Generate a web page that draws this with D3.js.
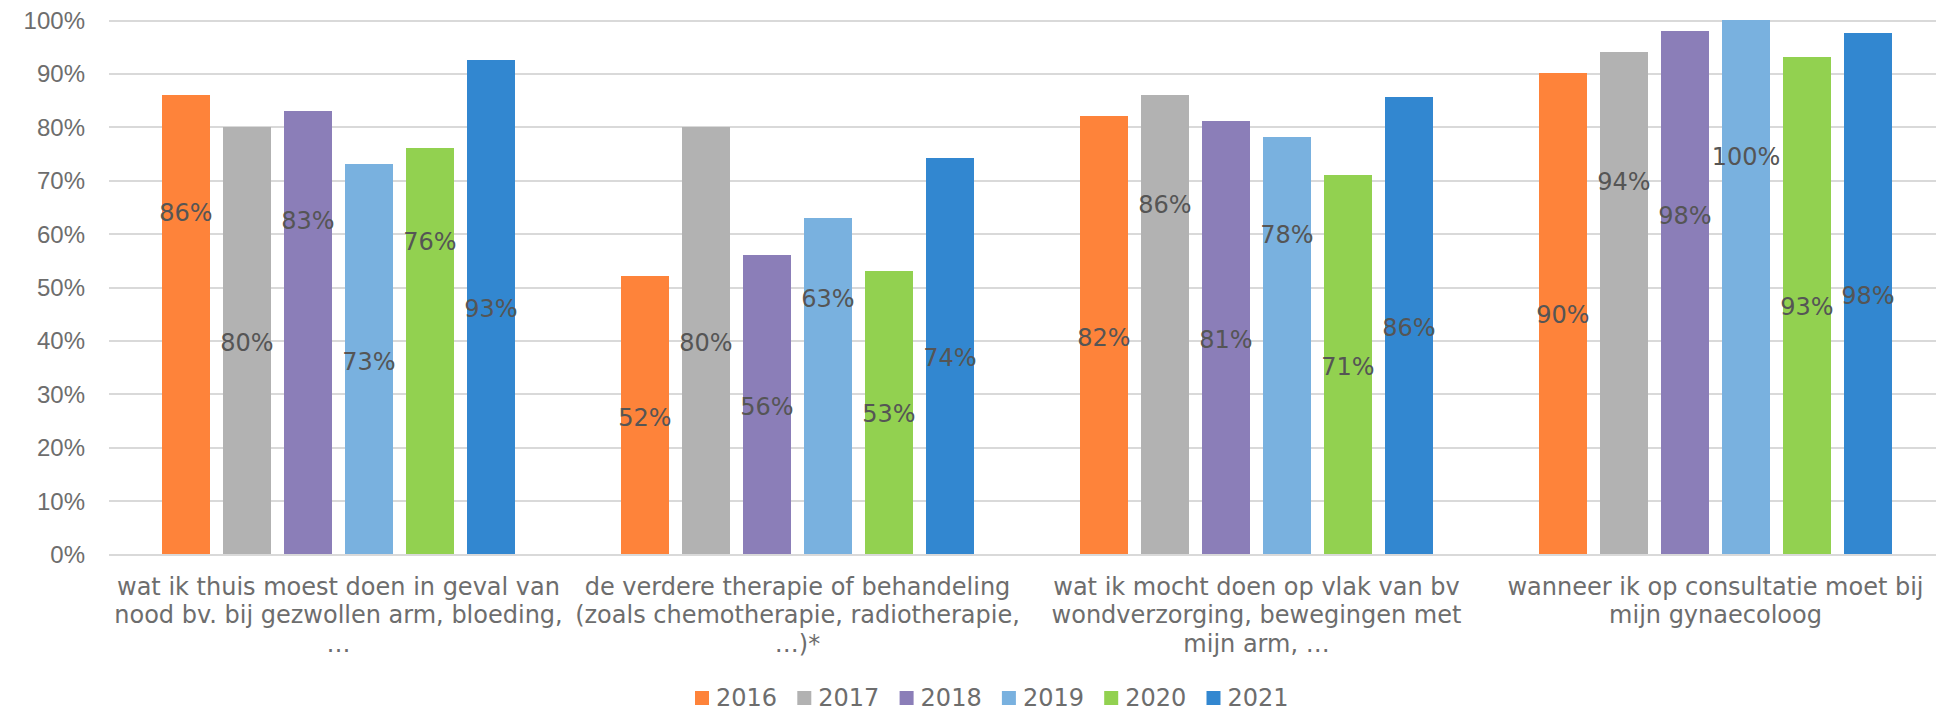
<html lang="nl">
<head>
    <meta charset="utf-8">
    <title>Informatie per jaar</title>
    <script src="https://cdn.jsdelivr.net/npm/d3@7"></script>
    <style type="text/css">
        body {
            margin: 0;
            font-family: Verdana, "DejaVu Sans", sans-serif;
            background: #fff;
        }
        .grid line {
            stroke: #d9d9d9;
            stroke-width: 2px;
            shape-rendering: crispEdges;
        }
        .grid .domain {
            display: none;
        }
        .grid text {
            font-size: 24px;
            fill: #6d6d6d;
        }
        .bar {
            shape-rendering: crispEdges;
        }
        .val {
            font-size: 24px;
            fill: #555;
            text-anchor: middle;
        }
        .cat {
            font-size: 24px;
            fill: #6d6d6d;
            text-anchor: middle;
        }
        .legend text {
            font-size: 24px;
            fill: #6d6d6d;
        }
    </style>
</head>
<body>
<div id="chart">
    <script type="text/javascript">

        // data
        var years = ["2016", "2017", "2018", "2019", "2020", "2021"];
        var categories = [
            ["wat ik thuis moest doen in geval van", "nood bv. bij gezwollen arm, bloeding,", "\u2026"],
            ["de verdere therapie of behandeling", "(zoals chemotherapie, radiotherapie,", "\u2026)*"],
            ["wat ik mocht doen op vlak van bv", "wondverzorging, bewegingen met", "mijn arm, \u2026"],
            ["wanneer ik op consultatie moet bij", "mijn gynaecoloog"]
        ];
        var values2016 = [86, 52, 82, 90];
        var values2017 = [80, 80, 86, 94];
        var values2018 = [83, 56, 81, 98];
        var values2019 = [73, 63, 78, 100];
        var values2020 = [76, 53, 71, 93];
        var values2021 = [92.6, 74.2, 85.6, 97.6];
        // where the labels sit (in %), they are not aligned to the bars in the original
        var labelAt2016 = [63.9, 25.6, 40.6, 44.8];
        var labelAt2017 = [39.6, 39.6, 65.4, 69.7];
        var labelAt2018 = [62.4, 27.6, 40.2, 63.4];
        var labelAt2019 = [36.0, 47.8, 59.9, 74.4];
        var labelAt2020 = [58.5, 26.2, 35.1, 46.3];
        var labelAt2021 = [46.0, 36.8, 42.4, 48.4];
        var yTicks = [0, 10, 20, 30, 40, 50, 60, 70, 80, 90, 100];
        var colors = ["#fe833a", "#b2b2b2", "#8b7eb8", "#79b1df", "#92d150", "#3287d0"];

        var series = [values2016, values2017, values2018, values2019, values2020, values2021];
        var labelAt = [labelAt2016, labelAt2017, labelAt2018, labelAt2019, labelAt2020, labelAt2021];

        var width = 1936,
            height = 711,
            plotLeft = 109,
            catWidth = 459,
            plotTop = 20,
            plotBottom = 554;

        var rows = [];
        series.forEach(function (vals, s) {
            vals.forEach(function (v, c) {
                rows.push({year: years[s], cat: c, value: v, labelAt: labelAt[s][c]});
            });
        });

        var svg = d3.select("#chart").append("svg")
            .attr("width", width)
            .attr("height", height);

        var x0 = d3.scaleBand()
            .domain(d3.range(categories.length))
            .range([plotLeft, plotLeft + catWidth * categories.length]);

        var x1 = d3.scaleBand()
            .domain(years)
            .range([0, x0.bandwidth()])
            .paddingInner(13 / 61)
            .paddingOuter(0.869);

        var y = d3.scaleLinear()
            .domain([0, 100])
            .range([plotBottom, plotTop]);

        var color = d3.scaleOrdinal()
            .domain(years)
            .range(colors);

        svg.append("g")
            .attr("class", "grid")
            .attr("transform", "translate(" + plotLeft + ",0)")
            .call(d3.axisLeft(y)
                .tickValues(yTicks)
                .tickSize(-(width - plotLeft))
                .tickPadding(24)
                .tickFormat(function (d) { return d + "%"; }))
            .selectAll("text")
            .attr("dy", "0.35em");

        svg.append("g").selectAll("rect")
            .data(rows)
            .enter().append("rect")
            .attr("class", "bar")
            .attr("x", function (d) { return x0(d.cat) + x1(d.year); })
            .attr("y", function (d) { return y(d.value); })
            .attr("width", x1.bandwidth())
            .attr("height", function (d) { return y(0) - y(d.value); })
            .attr("fill", function (d) { return color(d.year); });

        svg.append("g").selectAll("text")
            .data(rows)
            .enter().append("text")
            .attr("class", "val")
            .attr("x", function (d) { return x0(d.cat) + x1(d.year) + x1.bandwidth() / 2; })
            .attr("y", function (d) { return y(d.labelAt); })
            .attr("dy", "0.35em")
            .text(function (d) { return Math.round(d.value) + "%"; });

        // category labels, already broken into lines like in the original
        var cat = svg.append("g").selectAll("text")
            .data(categories)
            .enter().append("text")
            .attr("class", "cat")
            .attr("x", function (d, i) { return x0(i) + x0.bandwidth() / 2; })
            .attr("y", 595);

        cat.selectAll("tspan")
            .data(function (d) { return d; })
            .enter().append("tspan")
            .attr("x", function () { return d3.select(this.parentNode).attr("x"); })
            .attr("dy", function (d, i) { return i === 0 ? 0 : 28.3; })
            .text(function (d) { return d; });

        var legendX = d3.scalePoint()
            .domain(years)
            .range([695, 695 + 5 * 102.3]);

        var legend = svg.append("g")
            .attr("class", "legend")
            .selectAll("g")
            .data(years)
            .enter().append("g")
            .attr("transform", function (d) { return "translate(" + legendX(d) + ",691)"; });

        legend.append("rect")
            .attr("width", 14)
            .attr("height", 14)
            .attr("fill", function (d) { return color(d); });

        legend.append("text")
            .attr("x", 21)
            .attr("y", 7)
            .attr("dy", "0.35em")
            .text(function (d) { return d; });

    </script>
</div>
</body>
</html>
